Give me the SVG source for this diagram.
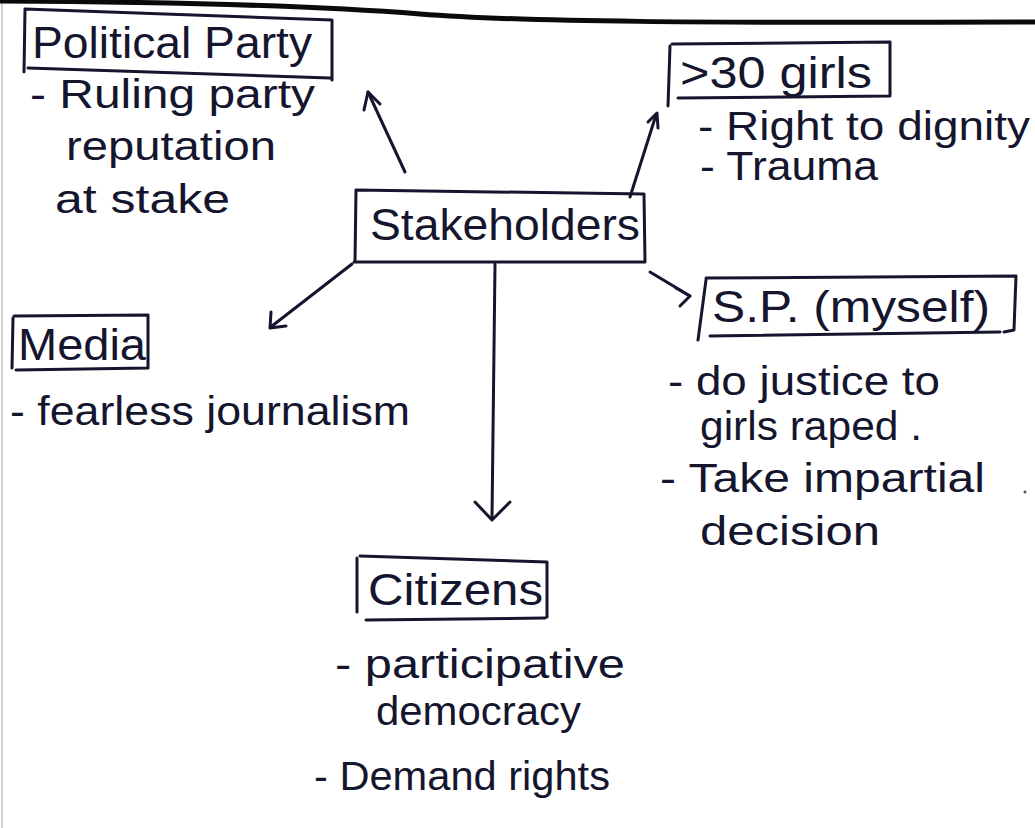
<svg xmlns="http://www.w3.org/2000/svg" width="1035" height="828" viewBox="0 0 1035 828">
  <defs>
    <style>
      .ink { fill: none; stroke: #15152e; stroke-width: 3; stroke-linecap: round; stroke-linejoin: round; }
      .head { font-family: "Liberation Sans", "DejaVu Sans", sans-serif; font-size: 44px; fill: #15152e; }
      .note { font-family: "Liberation Sans", "DejaVu Sans", sans-serif; font-size: 40px; fill: #15152e; }
    </style>
  </defs>

  <rect width="1035" height="828" fill="#ffffff"/>
  <!-- page edge and heavy rule at the top -->
  <path d="M2,0 L2,828" stroke="#d0d0d0" stroke-width="2"/>
  <path d="M0,1 C200,2 320,6 420,14 S700,23 1035,22" fill="none" stroke="#0a0a0a" stroke-width="5"/>

  <g id="connectors">
    <!-- to Political Party -->
    <path class="ink" d="M405,172 L368,92"/>
    <path class="ink" d="M364,110 L368,92 L380,104"/>
    <!-- to >30 girls -->
    <path class="ink" d="M630,197 L656,115"/>
    <path class="ink" d="M648,122 L657,113 L658,128"/>
    <!-- to Media -->
    <path class="ink" d="M352,264 L272,326"/>
    <path class="ink" d="M271,312 L270,328 L286,326"/>
    <!-- to Citizens -->
    <path class="ink" d="M495,264 L492,518"/>
    <path class="ink" d="M475,502 L492,520 L510,502"/>
    <!-- to S.P. -->
    <path class="ink" d="M650,272 L690,296"/>
    <path class="ink" d="M676,288 L690,296 L680,306"/>
  </g>

  <g id="stakeholders">
    <path class="ink" d="M356,190 L644,194 L645,262 M354,262 L645,262 M356,190 L355,262"/>
    <text class="head" x="370" y="240" textLength="270" lengthAdjust="spacingAndGlyphs">Stakeholders</text>
  </g>

  <g id="political-party">
    <path class="ink" d="M25,9 L332,20 L332,80 M28,68 L330,78 M25,9 L24,72"/>
    <text class="head" x="32" y="58" textLength="280" lengthAdjust="spacingAndGlyphs">Political Party</text>
    <text class="note" x="30" y="108" textLength="285" lengthAdjust="spacingAndGlyphs">- Ruling party</text>
    <text class="note" x="66" y="160" textLength="210" lengthAdjust="spacingAndGlyphs">reputation</text>
    <text class="note" x="55" y="213" textLength="175" lengthAdjust="spacingAndGlyphs">at stake</text>
  </g>

  <g id="girls">
    <path class="ink" d="M672,44 L890,42 L890,95 M678,98 L890,96 M670,46 L668,106"/>
    <text class="head" x="680" y="88" textLength="192" lengthAdjust="spacingAndGlyphs">&gt;30 girls</text>
    <text class="note" x="698" y="140" textLength="332" lengthAdjust="spacingAndGlyphs">- Right to dignity</text>
    <text class="note" x="700" y="180" textLength="178" lengthAdjust="spacingAndGlyphs">- Trauma</text>
  </g>

  <g id="media">
    <path class="ink" d="M14,316 L148,315 L148,368 M16,370 L148,368 M13,318 L12,368"/>
    <text class="head" x="18" y="360" textLength="128" lengthAdjust="spacingAndGlyphs">Media</text>
    <text class="note" x="10" y="425" textLength="400" lengthAdjust="spacingAndGlyphs">- fearless journalism</text>
  </g>

  <g id="sp">
    <path class="ink" d="M706,278 L1016,276 L1014,330 L1004,332 M710,336 L1000,332 M706,280 L698,340"/>
    <text class="head" x="712" y="322" textLength="278" lengthAdjust="spacingAndGlyphs">S.P. (myself)</text>
    <text class="note" x="668" y="395" textLength="272" lengthAdjust="spacingAndGlyphs">- do justice to</text>
    <text class="note" x="700" y="440" textLength="222" lengthAdjust="spacingAndGlyphs">girls raped .</text>
    <text class="note" x="660" y="492" textLength="325" lengthAdjust="spacingAndGlyphs">- Take impartial</text>
    <text class="note" x="700" y="545" textLength="180" lengthAdjust="spacingAndGlyphs">decision</text>
    <circle cx="1025" cy="492" r="1.5" fill="#555"/>
  </g>

  <g id="citizens">
    <path class="ink" d="M360,556 L547,562 L547,617 M366,620 L545,618 M357,558 L357,612"/>
    <text class="head" x="368" y="605" textLength="175" lengthAdjust="spacingAndGlyphs">Citizens</text>
    <text class="note" x="335" y="678" textLength="290" lengthAdjust="spacingAndGlyphs">- participative</text>
    <text class="note" x="376" y="725" textLength="205" lengthAdjust="spacingAndGlyphs">democracy</text>
    <text class="note" x="314" y="790" textLength="296" lengthAdjust="spacingAndGlyphs">- Demand rights</text>
  </g>
</svg>
